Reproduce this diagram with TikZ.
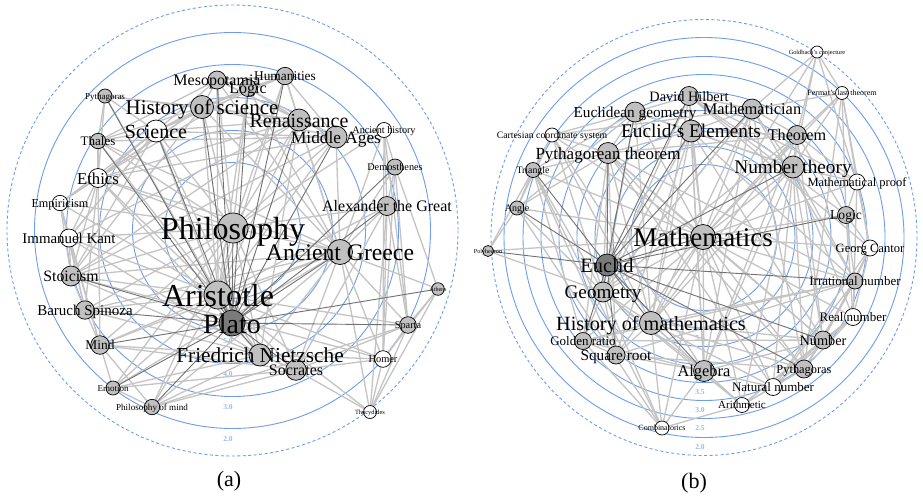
\documentclass[tikz,border=0pt]{standalone}
\usepackage{fontspec}
\setmainfont{Liberation Serif}
\pgfdeclarelayer{circ}
\pgfdeclarelayer{edges}
\pgfsetlayers{circ,edges,main}
\definecolor{ringblue}{RGB}{108,158,236}
\definecolor{axisblue}{RGB}{150,186,240}
\definecolor{edgegray}{RGB}{196,196,196}
\definecolor{edgedark}{RGB}{112,112,112}
\definecolor{nodegray}{RGB}{192,192,192}
\definecolor{nodedark}{RGB}{122,122,122}
\tikzset{
  vert/.style={circle, draw=black, line width=0.7pt, inner sep=0pt, outer sep=0pt},
  vlabel/.style={anchor=base, inner sep=0pt, text=black},
  edgel/.style={draw=edgegray, line width=1.3pt},
  edged/.style={draw=edgedark, line width=0.9pt},
  ringline/.style={draw=ringblue, line width=0.9pt},
  ringdash/.style={draw=ringblue, line width=0.9pt, dash pattern=on 3pt off 2.5pt},
  axlab/.style={text=axisblue, font=\fontsize{7.5}{7.5}\selectfont\bfseries, inner sep=0pt},
  captext/.style={font=\fontsize{22}{22}\selectfont, anchor=base, inner sep=0pt}
}
\def\nodesA{meso/217/80/9/nodegray/16/Mesopotamia,
logic/248/88/8.5/nodegray/16/Logic,
human/285/76/8.7/nodegray/13.4/Humanities,
pyth/105/96/7/nodegray/9/Pythagoras,
hos/202/107/11.5/nodegray/21/History of science,
sci/156/131/11/white/20/Science,
ren/299/120/11/nodegray/20/Renaissance,
mid/336/137/11/nodegray/17.3/Middle Ages,
anch/384/130/7.5/white/10.2/Ancient history,
thal/98/141/7.7/nodegray/13/Thales,
dem/395/167/8/nodegray/10.3/Demosthenes,
eth/98/178/9.5/white/16.7/Ethics,
emp/60/203/7.7/white/12.2/Empiricism,
alex/387/206/9.5/nodegray/16/Alexander the Great,
kant/69/238/9/white/14.9/Immanuel Kant,
phil/233/228/15/nodegray/32/Philosophy,
ag/340/252/12.5/nodegray/23.7/Ancient Greece,
sto/71/276/10/nodegray/15.8/Stoicism,
arist/218/295/14/nodegray/32/Aristotle,
ath/438/289/6.3/nodegray/6/Athens,
spin/85/310/9.2/nodegray/15/Baruch Spinoza,
plato/232/323/13/nodedark/28/Plato,
spar/408/325/8.3/nodegray/10.3/Sparta,
mind/100/345/9.3/nodegray/13.4/Mind,
niet/260/355/11/nodegray/21.3/Friedrich Nietzsche,
hom/383/359/8.3/white/10.4/Homer,
soc/296/370/10.3/nodegray/16/Socrates,
emo/113/388/7/nodegray/9/Emotion,
pom/152/407/7.7/nodegray/9.1/Philosophy of mind,
thu/370/412/6.5/white/6.4/Thucydides}
\def\nodesB{gold/817/52/6/white/6.3/Goldbach's conjecture,
ferm/842/93/6.5/white/8/Fermat's last theorem,
hilb/689/96/9.5/nodegray/14.3/David Hilbert,
eucg/635/112/10/nodegray/15.3/Euclidean geometry,
mathn/752/109/10/nodegray/16.4/Mathematician,
eel/691/131/11/nodegray/19.3/Euclid's Elements,
cart/552/135/7/white/9.8/Cartesian coordinate system,
thm/797/135/9.5/nodegray/16.2/Theorem,
pyt/608/153/10.5/nodegray/17/Pythagorean theorem,
tri/533/170/7.5/nodegray/9.8/Triangle,
nt/793/167/11/nodegray/19.3/Number theory,
mproof/857/182/8/white/12.5/Mathematical proof,
ang/517/208/7/nodegray/10/Angle,
logb/846/215/8.5/nodegray/13.6/Logic,
math/703/237/12.5/nodegray/27/Mathematics,
cant/870/248/8/white/12.6/Georg Cantor,
poly/488/251/5.5/nodegray/6.1/Polyhedron,
euclid/607/265/11/nodedark/20.4/Euclid,
geom/603/292/10/nodegray/19.2/Geometry,
hmath/651/323/11.5/nodegray/20.2/History of mathematics,
golden/583/341/8.5/nodegray/13/Golden ratio,
sqr/616/355/9/nodegray/15.3/Square root,
alg/704/371/10.5/nodegray/16.4/Algebra,
arith/742/405/7.5/white/11/Arithmetic,
comb/662/428/7/white/8/Combinatorics,
natn/773/387/8.5/white/13/Natural number,
pytb/804/369/9/nodegray/12.4/Pythagoras,
numb/823/340/9/nodegray/14.3/Number,
realn/853/317/8.5/white/13/Real number,
irr/855/281/8/nodegray/13/Irrational number}
\begin{document}
\begin{tikzpicture}[x=1pt,y=-1pt]
\useasboundingbox (0,0) rectangle (923,496);
% nodes
\foreach \n/\x/\y/\r/\f/\s/\t in \nodesA {
  \node[vert, fill=\f, minimum size=2*\r pt] (\n) at (\x,\y) {};
}
\foreach \n/\x/\y/\r/\f/\s/\t in \nodesB {
  \node[vert, fill=\f, minimum size=2*\r pt] (\n) at (\x,\y) {};
}
% labels
\foreach \n/\x/\y/\r/\f/\s/\t in \nodesA {
  \node[vlabel, font=\fontsize{\s}{\s}\selectfont] (\n-l) at ([yshift=-0.36*\s pt]\n.center) {\t};
}
\foreach \n/\x/\y/\r/\f/\s/\t in \nodesB {
  \node[vlabel, font=\fontsize{\s}{\s}\selectfont] (\n-l) at ([yshift=-0.36*\s pt]\n.center) {\t};
}
\node[captext] (capa) at (229,486) {(a)};
\node[captext] (capb) at (694,488) {(b)};
% rings
\begin{pgfonlayer}{circ}
  \fill[white] (0,0) rectangle (923,496);
  \coordinate (ca) at (232.5,230.5);
  \coordinate (cb) at (704,237.5);
  \foreach \r in {198,166,133,100,68} \draw[ringline] (ca) circle[radius=\r];
  \draw[ringdash] (ca) circle[radius=225.5];
  \foreach \r/\v in {198/2.0,166/3.0,133/4.0,100/5.0}
    \node[axlab] (axa\v) at (228,241+\r) {\v};
  \foreach \r in {200,181,163,145,127,109,91,73} \draw[ringline] (cb) circle[radius=\r];
  \draw[ringdash] (cb) circle[x radius=213, y radius=218];
  \foreach \r/\v in {200/2.0,181/2.5,163/3.0,145/3.5,91/5.0}
    \node[axlab] (axb\v) at (700,247+\r) {\v};
\end{pgfonlayer}
% edges
\begin{pgfonlayer}{edges}
\foreach \a/\b in {arist/phil, arist/meso, arist/logic, arist/human, arist/hos, arist/sci, arist/ren, arist/mid, arist/eth, arist/emp, arist/kant, arist/alex, arist/ag, arist/sto, arist/spin, arist/mind, arist/niet, arist/soc, arist/emo, arist/pom, arist/hom, arist/spar, arist/thu, arist/thal, arist/pyth,
phil/meso, phil/logic, phil/human, phil/hos, phil/sci, phil/ren, phil/mid, phil/eth, phil/emp, phil/kant, phil/sto, phil/spin, phil/mind, phil/niet, phil/soc, phil/ag, phil/alex, phil/pom, phil/emo, phil/thal, phil/anch,
pyth/thal, thal/eth, eth/emp, emp/kant, kant/sto, sto/spin, spin/mind, mind/emo, emo/pom, thal/sci, pyth/hos, pyth/sci, sci/hos, hos/meso, meso/logic, logic/human, human/ren, ren/mid, mid/anch, anch/dem, dem/alex, alex/ag, ag/ath, ath/spar, spar/hom, hom/thu, spar/thu, anch/hom, ag/soc, ag/hom, ag/spar, ag/thu, soc/thu, niet/soc, soc/hom, niet/hom, pyth/ren, thal/hos, eth/hos, eth/sci, emp/sci, kant/sci, kant/niet, sto/eth, sto/ag, spin/kant, spin/eth, mind/pom, emp/mind, eth/mind, sci/ren, hos/ren, hos/mid, meso/ag, meso/mid, human/mid, logic/sci, logic/eth, ren/ag, mid/ag, alex/anch, dem/ag, dem/ath, anch/ag, alex/spar, alex/hom, ag/niet, niet/ren, soc/pom, soc/emo, niet/pom, emo/ag, hom/ath, thu/ath, dem/spar, ren/eth, mid/eth, mid/thal, human/hos, human/sci, logic/hos, meso/sci, meso/thal, hos/ag, sci/mid, pyth/eth, thal/ag, eth/ag, emp/hos, kant/ren, sto/soc, spin/niet, mind/niet, emo/niet, pom/spar, sto/hom, emp/sto, kant/mind, emp/spin, eth/kant, sci/kant, sci/sto, hos/sto, ren/sto, mid/sto, human/ag, logic/ag, logic/mid, logic/ren, meso/ren, meso/human, anch/spar, dem/hom, alex/thu, alex/soc, ag/pom, ag/mind, ag/spin, niet/sci, niet/eth, soc/mind, spar/soc}
  \draw[edgel] (\a) -- (\b);
\foreach \b in {pyth, thal, meso, hos, logic, human, ren, mid, alex, dem, ag, sto, spin, ath, spar, mind, emo, pom, niet, soc, phil, arist, sci}
  \draw[edged] (plato) -- (\b);
\foreach \a/\b in {math/hilb, math/eucg, math/mathn, math/eel, math/thm, math/pyt, math/nt, math/mproof, math/logb, math/cant, math/irr, math/realn, math/numb, math/pytb, math/natn, math/arith, math/alg, math/comb, math/sqr, math/golden, math/hmath, math/geom, math/tri, math/ang, math/cart, math/gold, math/ferm,
hmath/eel, hmath/eucg, hmath/pyt, hmath/geom, hmath/alg, hmath/numb, hmath/nt, hmath/mathn, hmath/hilb, hmath/thm, hmath/irr, hmath/pytb, hmath/arith, hmath/comb, hmath/sqr, hmath/golden, hmath/cart, hmath/natn,
gold/ferm, gold/nt, gold/thm, gold/mathn, gold/mproof, ferm/thm, ferm/nt, ferm/mathn, ferm/mproof, ferm/logb, ferm/pytb, ferm/cant, hilb/eucg, hilb/mathn, hilb/eel, hilb/logb, hilb/mproof, hilb/cant, eucg/eel, eucg/pyt, eucg/cart, eucg/tri, eucg/ang, eucg/geom, eel/pyt, eel/thm, eel/mathn, eel/nt, eel/geom, eel/sqr, cart/pyt, cart/tri, cart/geom, cart/ang, cart/alg, cart/mathn, thm/nt, thm/mproof, thm/logb, thm/pyt, mathn/thm, mathn/nt, pyt/tri, pyt/ang, pyt/geom, pyt/sqr, pyt/irr, pyt/numb, pyt/natn, pyt/golden, pyt/pytb, tri/ang, tri/geom, tri/poly, tri/sqr, tri/golden, ang/poly, ang/geom, ang/comb, nt/mproof, nt/numb, nt/irr, nt/natn, nt/arith, nt/realn, nt/alg, nt/pytb, mproof/logb, mproof/cant, mproof/realn, logb/cant, logb/irr, logb/realn, cant/irr, cant/realn, cant/numb, cant/natn, irr/realn, irr/numb, irr/sqr, irr/pytb, irr/natn, irr/golden, realn/numb, realn/natn, realn/pytb, realn/arith, numb/pytb, numb/natn, numb/arith, numb/alg, pytb/natn, pytb/arith, pytb/sqr, natn/arith, natn/alg, arith/alg, arith/comb, arith/geom, comb/alg, comb/geom, comb/golden, comb/tri, alg/sqr, alg/geom, sqr/golden, sqr/geom, golden/geom, golden/numb, golden/alg, geom/poly, geom/mathn, poly/math, hilb/alg, hilb/geom, hilb/nt, eucg/nt, mathn/alg, mathn/geom, mathn/pytb, mathn/irr, thm/alg, thm/geom, thm/numb, eel/alg, eel/numb, eel/irr}
  \draw[edgel] (\a) -- (\b);
\foreach \b in {tri, ang, poly, pyt, eucg, hilb, eel, nt, logb, irr, numb, pytb, alg, geom, hmath, math, sqr, golden, mathn}
  \draw[edged] (euclid) -- (\b);
\end{pgfonlayer}
\end{tikzpicture}
\end{document}
